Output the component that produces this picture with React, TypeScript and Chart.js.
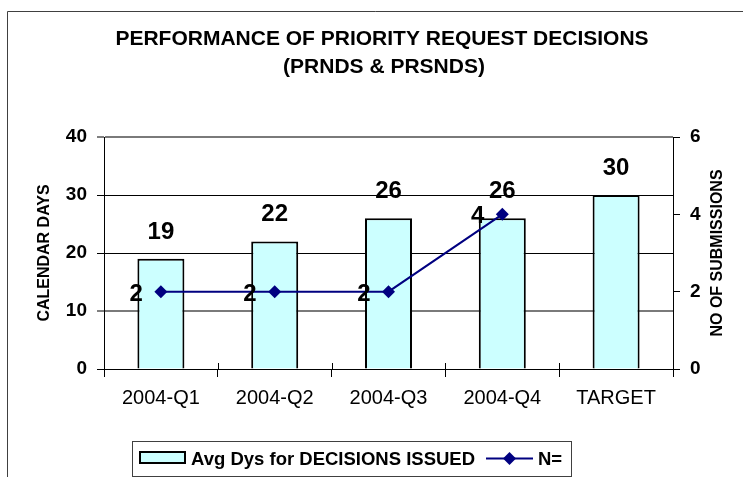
import React, { useEffect, useRef } from "react";
import { Chart, registerables } from "chart.js";

Chart.register(...registerables);

const categories = ["2004-Q1", "2004-Q2", "2004-Q3", "2004-Q4", "TARGET"];
const avgDays = [19, 22, 26, 26, 30];
const submissions: (number | null)[] = [2, 2, 2, 4, null];
const leftTicks = [0, 10, 20, 30, 40];
const rightTicks = [0, 2, 4, 6];
const titleLines = ["PERFORMANCE OF PRIORITY REQUEST DECISIONS", "(PRNDS & PRSNDS)"];
const barLabel = "Avg Dys for DECISIONS ISSUED";
const lineLabel = "N=";
const leftAxisTitle = "CALENDAR DAYS";
const rightAxisTitle = "NO OF SUBMISSIONS";

const FONT = "'Liberation Sans', Arial, Helvetica, sans-serif";
const BAR_FILL = "#CCFFFF";
const NAVY = "#000080";

const decorPlugin = {
  id: "decor",
  beforeDraw(chart: any) {
    const ctx = chart.ctx;
    ctx.save();
    ctx.fillStyle = "#ffffff";
    ctx.fillRect(0, 0, chart.width, chart.height);
    ctx.strokeStyle = "#404040";
    ctx.lineWidth = 1;
    ctx.beginPath();
    ctx.moveTo(7.5, chart.height + 2);
    ctx.lineTo(7.5, 11.5);
    ctx.lineTo(chart.width + 2, 11.5);
    ctx.stroke();
    // title
    ctx.fillStyle = "#000";
    ctx.font = `bold 21px ${FONT}`;
    ctx.textAlign = "center";
    ctx.textBaseline = "alphabetic";
    ctx.fillText(titleLines[0], 382, 45);
    ctx.fillText(titleLines[1], 384, 73);
    ctx.restore();
  },
  afterDraw(chart: any) {
    const ctx = chart.ctx;
    const x = chart.scales.x;
    const area = chart.chartArea;
    ctx.save();
    // inner part of crossing x ticks
    ctx.strokeStyle = "#000";
    ctx.lineWidth = 1;
    for (let i = 0; i <= categories.length; i++) {
      const px = Math.round(x.getPixelForValue(i - 0.5)) + 0.5;
      ctx.beginPath();
      ctx.moveTo(px, area.bottom - 6);
      ctx.lineTo(px, area.bottom);
      ctx.stroke();
    }
    // right axis title, reading bottom to top
    ctx.save();
    ctx.translate(718, (area.top + area.bottom) / 2);
    ctx.rotate(-Math.PI / 2);
    ctx.fillStyle = "#000";
    ctx.font = `bold 16px ${FONT}`;
    ctx.textAlign = "center";
    ctx.textBaseline = "middle";
    ctx.fillText(rightAxisTitle, 0, 0);
    ctx.restore();
    // legend
    const lx = 132, ly = 441, lw = 439, lh = 35;
    ctx.strokeStyle = "#404040";
    ctx.lineWidth = 1;
    ctx.strokeRect(lx + 0.5, ly + 0.5, lw, lh);
    ctx.fillStyle = BAR_FILL;
    ctx.fillRect(139, 451, 47, 13);
    ctx.strokeStyle = "#000";
    ctx.lineWidth = 2;
    ctx.strokeRect(140, 452, 45, 11);
    ctx.fillStyle = "#000";
    ctx.font = `bold 18.5px ${FONT}`;
    ctx.textAlign = "left";
    ctx.textBaseline = "alphabetic";
    ctx.fillText(barLabel, 191, 465);
    ctx.strokeStyle = NAVY;
    ctx.lineWidth = 2;
    ctx.beginPath();
    ctx.moveTo(486, 458.5);
    ctx.lineTo(533, 458.5);
    ctx.stroke();
    ctx.fillStyle = NAVY;
    ctx.beginPath();
    ctx.moveTo(509.5, 452);
    ctx.lineTo(516, 458.5);
    ctx.lineTo(509.5, 465);
    ctx.lineTo(503, 458.5);
    ctx.closePath();
    ctx.fill();
    ctx.fillStyle = "#000";
    ctx.fillText(lineLabel, 538, 465);
    ctx.restore();
  },
  afterDatasetsDraw(chart: any) {
    const ctx = chart.ctx;
    ctx.save();
    ctx.fillStyle = "#000";
    ctx.font = `bold 24px ${FONT}`;
    ctx.textBaseline = "alphabetic";
    const barMeta = chart.getDatasetMeta(0);
    ctx.textAlign = "center";
    barMeta.data.forEach((el: any, i: number) => {
      ctx.fillText(String(avgDays[i]), el.x, el.y - 20);
    });
    const lineMeta = chart.getDatasetMeta(1);
    ctx.textAlign = "right";
    lineMeta.data.forEach((el: any, i: number) => {
      const v = submissions[i];
      if (v === null || v === undefined) return;
      ctx.fillText(String(v), el.x - 18, el.y + 9);
    });
    ctx.restore();
  },
};

export default function App() {
  const ref = useRef<HTMLCanvasElement | null>(null);
  useEffect(() => {
    if (!ref.current) return;
    const chart = new Chart(ref.current, {
      data: {
        labels: categories,
        datasets: [
          {
            type: "bar",
            label: barLabel,
            data: avgDays,
            backgroundColor: BAR_FILL,
            borderColor: "#000",
            borderWidth: 2,
            yAxisID: "y",
            categoryPercentage: 1,
            barPercentage: 0.413,
            order: 2,
          },
          {
            type: "line",
            label: lineLabel,
            data: submissions,
            borderColor: NAVY,
            backgroundColor: NAVY,
            borderWidth: 2,
            pointStyle: "rectRot",
            pointRadius: 6.5,
            pointBackgroundColor: NAVY,
            pointBorderColor: NAVY,
            pointBorderWidth: 0,
            yAxisID: "y1",
            spanGaps: false,
            order: 1,
          },
        ],
      } as any,
      options: {
        responsive: false,
        animation: false,
        devicePixelRatio: 1,
        layout: { padding: { top: 137, left: 0, right: 0, bottom: 0 } },
        plugins: {
          legend: { display: false },
          title: { display: false },
          tooltip: { enabled: false },
        },
        scales: {
          x: {
            offset: true,
            afterFit: (s: any) => { s.height = 108; },
            grid: {
              offset: true,
              drawOnChartArea: false,
              drawTicks: true,
              tickLength: 8,
              color: "#000",
            },
            border: { color: "#000", width: 1 },
            ticks: {
              color: "#000",
              font: { family: FONT, size: 20 },
              padding: 9,
              maxRotation: 0,
            },
          },
          y: {
            position: "left",
            min: 0,
            max: 40,
            afterFit: (s: any) => { s.width = 104; },
            afterBuildTicks: (s: any) => { s.ticks = leftTicks.map((v) => ({ value: v })); },
            grid: {
              color: (c: any) => (c.tick && (c.tick.value === 40 || c.tick.value === 10) ? "#7a7a7a" : "#000"),
              lineWidth: (c: any) => (c.tick && (c.tick.value === 40 || c.tick.value === 10) ? 2 : 1),
              tickColor: "#000",
              tickWidth: 1,
              tickLength: 7,
            },
            border: { color: "#000", width: 1 },
            ticks: {
              color: "#000",
              font: { family: FONT, size: 19, weight: "bold" },
              padding: 10,
            },
            title: {
              display: true,
              text: leftAxisTitle,
              color: "#000",
              font: { family: FONT, size: 16, weight: "bold" },
              padding: { top: 35, bottom: 0 },
            },
          },
          y1: {
            position: "right",
            min: 0,
            max: 6,
            afterFit: (s: any) => { s.width = 70; },
            afterBuildTicks: (s: any) => { s.ticks = rightTicks.map((v) => ({ value: v })); },
            grid: { drawOnChartArea: false, color: "#000", tickLength: 7 },
            border: { color: "#000", width: 1 },
            ticks: {
              color: "#000",
              font: { family: FONT, size: 19, weight: "bold" },
              padding: 10,
            },
            title: { display: false },
          },
        },
      } as any,
      plugins: [decorPlugin],
    });
    return () => chart.destroy();
  }, []);
  return (
    <div style={{ position: "fixed", left: 0, top: 0, width: 743, height: 477, background: "#fff" }}>
      <canvas ref={ref} width={743} height={477} style={{ display: "block", width: 743, height: 477 }} />
    </div>
  );
}
